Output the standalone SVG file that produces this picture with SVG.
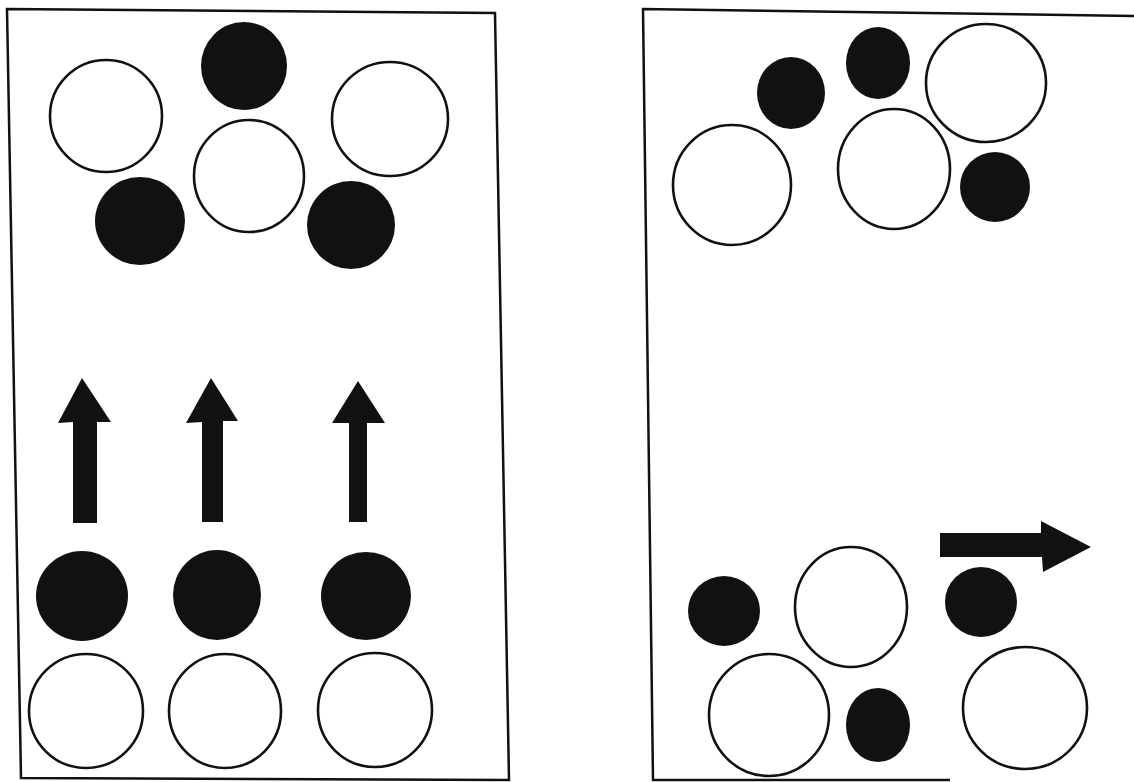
<svg xmlns="http://www.w3.org/2000/svg" width="1134" height="782" viewBox="0 0 1134 782">
<style>
.frame{fill:none;stroke:#111;stroke-width:2.5;stroke-linejoin:miter}
.w{fill:#fff;stroke:#111;stroke-width:2.6}
.b{fill:#111;stroke:none}
.arrow{fill:#111;stroke:none}
</style>
<rect width="1134" height="782" fill="#fff"/>
<g id="left-panel">
<polygon class="frame" points="7,9 495,13 509,780 21,778"/>
<g id="left-top-cluster">
<ellipse id="L-w1" class="w" cx="106" cy="116" rx="56" ry="56"/>
<ellipse id="L-b1" class="b" cx="244" cy="66" rx="43" ry="44"/>
<ellipse id="L-w2" class="w" cx="390" cy="119" rx="58" ry="57"/>
<ellipse id="L-w3" class="w" cx="249" cy="176" rx="55" ry="56"/>
<ellipse id="L-b2" class="b" cx="140" cy="221" rx="45" ry="44"/>
<ellipse id="L-b3" class="b" cx="351" cy="225" rx="44" ry="44"/>
</g>
<g id="left-bottom-rows">
<ellipse id="L-b4" class="b" cx="82" cy="596" rx="46" ry="45"/>
<ellipse id="L-b5" class="b" cx="217" cy="595" rx="44" ry="45"/>
<ellipse id="L-b6" class="b" cx="366" cy="596" rx="45" ry="44"/>
<ellipse id="L-w4" class="w" cx="86" cy="711" rx="57" ry="57"/>
<ellipse id="L-w5" class="w" cx="225" cy="711" rx="56" ry="57"/>
<ellipse id="L-w6" class="w" cx="375" cy="710" rx="57" ry="57"/>
</g>
</g>
<g id="right-panel">
<polyline class="frame" points="1134,16 643,9 653,780 950,780"/>
<g id="right-top-cluster">
<ellipse id="R-b1" class="b" cx="791" cy="93" rx="34" ry="36"/>
<ellipse id="R-b2" class="b" cx="878" cy="63" rx="32" ry="36"/>
<ellipse id="R-w1" class="w" cx="986" cy="83" rx="60" ry="59"/>
<ellipse id="R-w2" class="w" cx="732" cy="185" rx="59" ry="60"/>
<ellipse id="R-w3" class="w" cx="894" cy="169" rx="56" ry="60"/>
<ellipse id="R-b3" class="b" cx="995" cy="187" rx="35" ry="35"/>
</g>
<g id="right-bottom-cluster">
<ellipse id="R-b4" class="b" cx="724" cy="611" rx="36" ry="35"/>
<ellipse id="R-w4" class="w" cx="851" cy="607" rx="56" ry="60"/>
<ellipse id="R-b5" class="b" cx="981" cy="602" rx="36" ry="35"/>
<ellipse id="R-w5" class="w" cx="769" cy="715" rx="60" ry="61"/>
<ellipse id="R-b6" class="b" cx="878" cy="725" rx="32" ry="37"/>
<ellipse id="R-w6" class="w" cx="1025" cy="708" rx="62" ry="61"/>
</g>
</g>
<g id="connectors">
<polygon id="arrow-up-1" class="arrow" points="82,378 111,422 97,422 97,523 73,523 73,422 58,423"/>
<polygon id="arrow-up-2" class="arrow" points="211,378 238,421 223,421 223,522 202,522 202,422 186,423"/>
<polygon id="arrow-up-3" class="arrow" points="358,381 385,423 367,423 367,522 349,522 349,423 332,423"/>
<polygon id="arrow-right" class="arrow" points="940,533 1041,533 1041,521 1091,547 1043,572 1042,557 940,557"/>
</g>
</svg>
